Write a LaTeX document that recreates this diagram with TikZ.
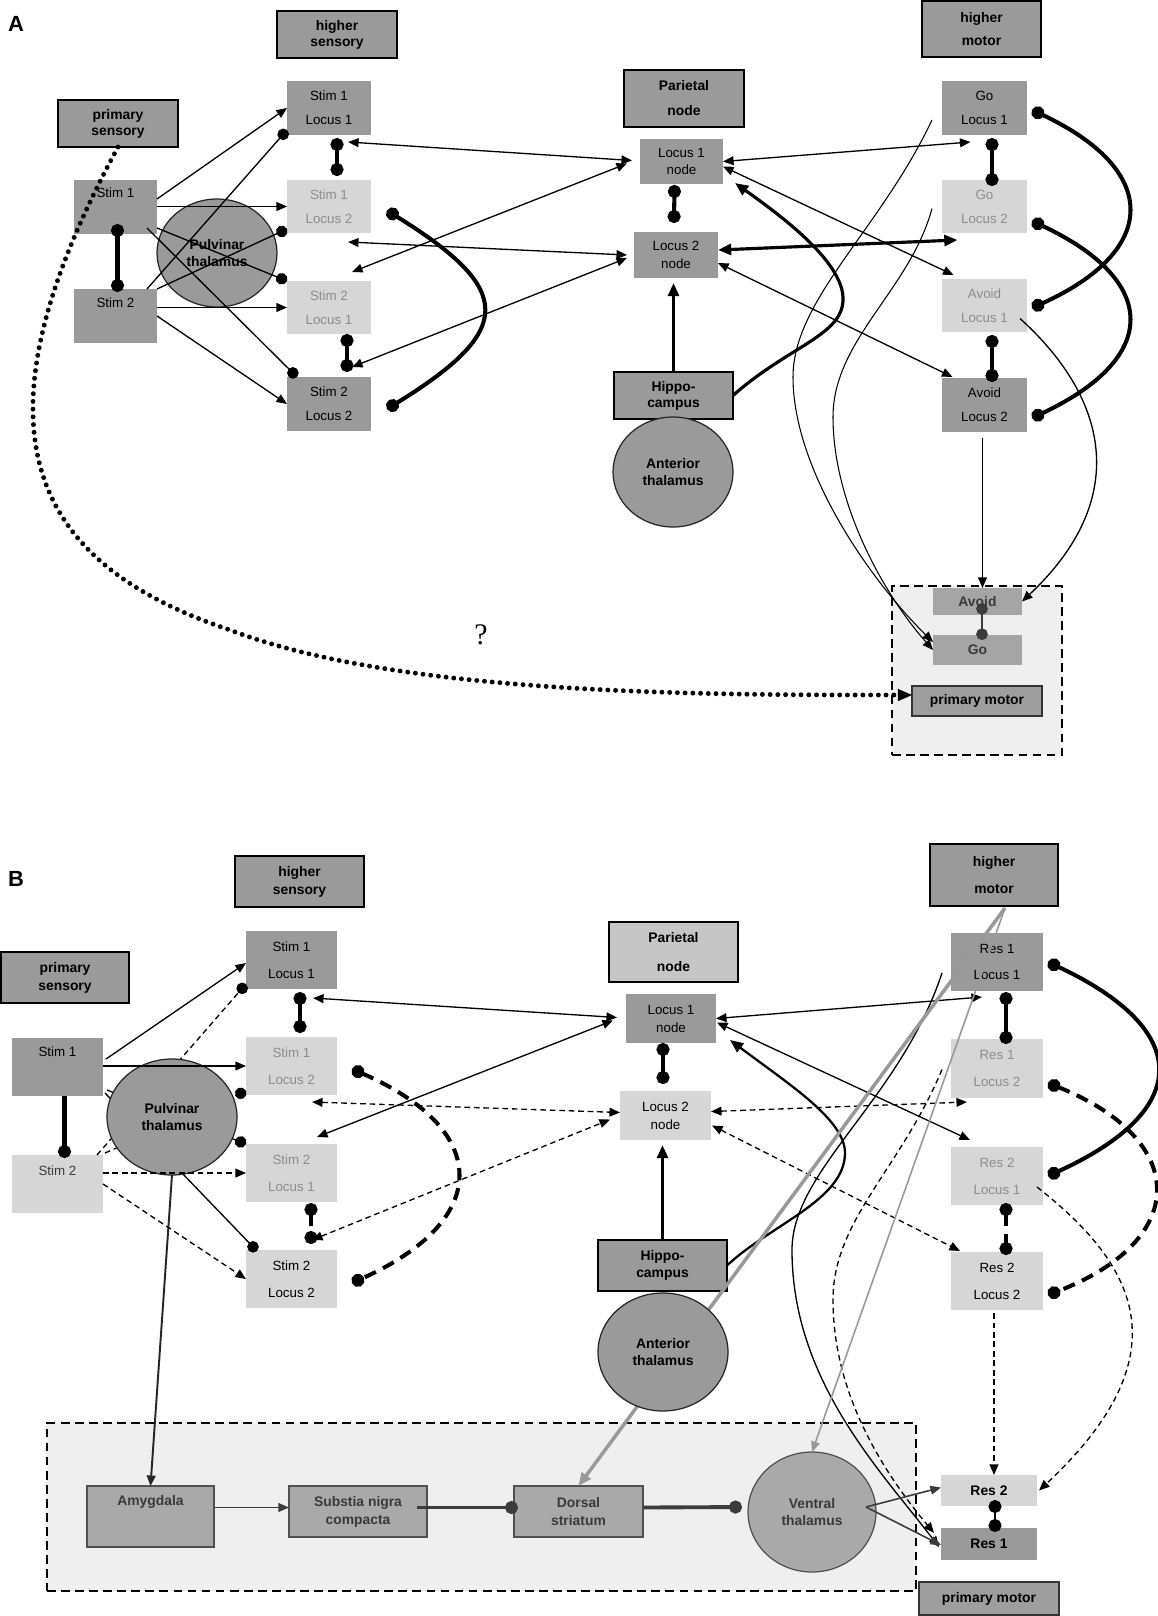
\documentclass[tikz,border=0pt]{standalone}
\usepackage{fontspec}
\setmainfont{Liberation Sans}
\newfontfamily\qfont{Liberation Serif}
\usetikzlibrary{arrows.meta,shapes.geometric,calc}
\definecolor{dk}{HTML}{9A9A9A}
\definecolor{lt}{HTML}{D6D6D6}
\definecolor{lttxt}{HTML}{8C8C8C}
\definecolor{reg}{HTML}{EFEFEF}
\definecolor{bbf}{HTML}{A9A9A9}
\definecolor{bbl}{HTML}{505050}
\definecolor{bbt}{HTML}{3A3A3A}
\definecolor{parf}{HTML}{C6C6C6}
\definecolor{gln}{HTML}{999999}
\definecolor{dg}{HTML}{3C3C3C}
\definecolor{motf}{HTML}{A5A5A5}
\definecolor{pmf}{HTML}{9E9E9E}
\tikzset{
  tipA/.tip={Triangle[length=6pt,width=5pt]},
  tipB/.tip={Triangle[length=7.5pt,width=6.2pt]},
  tipD/.tip={Circle[length=6.6pt]},
  tipE/.tip={Circle[length=7.4pt]},
  tipQ/.tip={Triangle[length=8pt,width=7pt,line width=0pt]},
}
\newcommand\mybox[7]{\node[#1,minimum width={(#5-#3)*0.02cm},minimum height={(#6-#4)*0.02cm}] (#2) at ({(#3+#5)/2},{(#4+#6)/2}) {#7};}
\begin{document}
\begin{tikzpicture}[x=0.02cm,y=-0.02cm,
  every node/.style={inner sep=0pt,outer sep=0pt},
  arr/.style={-{tipA}}, darr/.style={{tipA}-{tipA}},
  arrB/.style={-{tipB}}, darrB/.style={{tipB}-{tipB}},
  dotE/.style={-{tipD}}, dotB/.style={{tipD}-{tipD}},
  dotEE/.style={-{tipE}}, dotBE/.style={{tipE}-{tipE}},
  rt/.style={font=\fontsize{7.6}{#1}\selectfont,align=center},
  bt/.style={font=\bfseries\fontsize{7.9}{#1}\selectfont,align=center},
  dkbox/.style={fill=dk,text=black},
  ltbox/.style={fill=lt,text=lttxt},
  ltboxk/.style={fill=lt,text=black},
  lab/.style={fill=dk,draw=black,line width=0.7pt,text=black},
  labl/.style={fill=parf,draw=black,line width=0.7pt,text=black},
  circA/.style={ellipse,fill=dk,draw=black!85,line width=0.7pt,text=black},
  bxb/.style={fill=bbf,draw=bbl,line width=0.7pt,text=bbt},
  mot/.style={fill=motf,text=bbt},
  pmbox/.style={fill=pmf,draw=black!80,line width=0.7pt,text=black},
  regbox/.style={fill=reg,draw=black,line width=0.8pt,dash pattern=on 5pt off 3pt},
  thin1/.style={line width=0.75pt},
  thin0/.style={line width=0.6pt},
  med/.style={line width=1.8pt},
  med2/.style={line width=1.3pt},
  thick1/.style={line width=2.3pt},
  dashd/.style={dash pattern=on 3.2pt off 2.2pt},
  dashT/.style={dash pattern=on 7pt off 4.5pt},
  dgthin/.style={draw=dg,line width=0.9pt},
  dgthick/.style={draw=dg,line width=2.2pt},
]
\useasboundingbox (0,0) rectangle (1158,1616);
\fill[white] (0,0) rectangle (1158,1616);

%%%%%%%%%%%%%%%%%%%% PANEL A %%%%%%%%%%%%%%%%%%%%
\mybox{regbox}{regA}{892}{586}{1062}{755}{}
\node[font=\bfseries\fontsize{12.5}{12.5}\selectfont] (labA) at (16,24) {A};
\mybox{lab,bt=9.1pt}{hsA}{277}{11}{397}{58}{higher\\sensory}
\mybox{lab,bt=9.1pt}{psA}{58}{100}{178}{147}{primary\\sensory}
\mybox{dkbox}{s1A}{74}{180}{157}{234}{}
\node[rt=9pt] (s1At) at ($(s1A.north)+(0,13)$) {Stim 1};
\mybox{dkbox}{s2A}{74}{289}{157}{343}{}
\node[rt=9pt] (s2At) at ($(s2A.north)+(0,14)$) {Stim 2};
\mybox{dkbox,rt=13.6pt}{s1l1A}{287}{81}{371}{135}{Stim 1\\Locus 1}
\mybox{ltbox,rt=13.6pt}{s1l2A}{287}{180}{371}{233}{Stim 1\\Locus 2}
\mybox{ltbox,rt=13.6pt}{s2l1A}{287}{281}{371}{334}{Stim 2\\Locus 1}
\mybox{dkbox,rt=13.6pt}{s2l2A}{287}{377}{371}{431}{Stim 2\\Locus 2}
\node[circA,bt=9.6pt,minimum width={120*0.02cm},minimum height={108*0.02cm}] (pulvA) at (217,253) {Pulvinar\\thalamus};
\mybox{lab,bt=14.2pt}{parA}{624}{70}{744}{127}{Parietal\\node}
\mybox{dkbox,rt=10.2pt}{l1A}{640}{139}{723}{184}{Locus 1\\node}
\mybox{dkbox,rt=10.2pt}{l2A}{634}{232}{718}{278}{Locus 2\\node}
\mybox{lab,bt=9.1pt}{hipA}{614}{372}{733}{419}{Hippo-\\campus}
\node[circA,bt=9.6pt,minimum width={120*0.02cm},minimum height={110*0.02cm}] (antA) at (673,472) {Anterior\\thalamus};
\mybox{lab,bt=13.6pt}{hmA}{922}{1}{1041}{57}{higher\\motor}
\mybox{dkbox,rt=13.6pt}{g1A}{942}{81}{1027}{135}{Go\\Locus 1}
\mybox{ltbox,rt=13.6pt}{g2A}{942}{180}{1027}{233}{Go\\Locus 2}
\mybox{ltbox,rt=13.6pt}{a1A}{942}{279}{1027}{332}{Avoid\\Locus 1}
\mybox{dkbox,rt=13.6pt}{a2A}{942}{378}{1027}{432}{Avoid\\Locus 2}
\mybox{mot,bt=9pt}{avA}{933}{588}{1022}{615}{Avoid}
\mybox{mot,bt=9pt}{goA}{933}{635}{1022}{665}{Go}
\mybox{pmbox,bt=9pt}{pmA}{912}{686}{1042}{716}{primary motor}

% sensory connections A
\draw[thin1,arr] ([shift={(0,-8)}]s1A.east) -- (s1l1A.west);
\draw[thin1,arr] (s1A.east |- s1l2A.west) -- (s1l2A.west);
\draw[thin1,dotE] ([shift={(0,-6)}]s1A.south east) -- (s2l1A.north west);
\draw[thin1,dotE] ([shift={(-10,-6)}]s1A.south east) -- ([shift={(10,0)}]s2l2A.north west);
\draw[thin1,dotE] ([shift={(-10,0)}]s2A.north east) -- ([shift={(0,-5)}]s1l1A.south west);
\draw[thin1,dotE] (s2A.north east) -- ([shift={(0,-4)}]s1l2A.south west);
\draw[thin1,arr] (s2A.east |- s2l1A.west) -- (s2l1A.west);
\draw[thin1,arr] (s2A.east) -- (s2l2A.west);
\draw[thick1,dotBE] ([shift={(2,-10)}]s1A.south) -- ([shift={(2,3)}]s2A.north);
\draw[thick1,dotBE] ([shift={(8,3)}]s1l1A.south) -- ([shift={(8,-4)}]s1l2A.north);
\draw[thick1,dotBE] ([shift={(18,0)}]s2l1A.south) -- ([shift={(18,-5)}]s2l2A.north);
\draw[thick1,dotBE] ([shift={(16,4)}]s1l2A.east) .. controls (515,290) and (515,330) .. ([shift={(16,5)}]s2l2A.east);

% sensory <-> parietal A
\draw[thin1,darr] ([shift={(-23,7)}]s1l1A.south east) -- ([shift={(-8,-1)}]l1A.west);
\draw[thin1,darr] ([shift={(-13,2)}]l1A.west) -- ([shift={(23,-9)}]s2l1A.north);
\draw[thin1,darr] ([shift={(19,9)}]s1l2A.south) -- ([shift={(-7,0)}]l2A.west);
\draw[thin1,darr] ([shift={(23,-10)}]s2l2A.north) -- ([shift={(-7,3)}]l2A.west);
\draw[thick1,dotBE] ([shift={(-7,1)}]l1A.south) -- ([shift={(-2,-9)}]l2A.north);
\draw[med,arrB] (hipA.north) -- ($(hipA.north |- l2A.south)+(0,5)$);
\draw[med,arrB] (hipA.east) .. controls (790,345) and (845,335) .. (843,297) .. controls (841,260) and (780,215) .. ([shift={(12,-1)}]l1A.south east);

% parietal <-> motor A
\draw[thin1,darr] (l1A.east) -- ([shift={(-14,7)}]g1A.south);
\draw[thin1,darr] ([shift={(0,5)}]l1A.east) -- ([shift={(-31,-4)}]a1A.north);
\draw[med,darrB] ([shift={(0,-5)}]l2A.east) -- ([shift={(-27,7)}]g2A.south);
\draw[thin1,darr] ([shift={(0,8)}]l2A.east) -- ([shift={(-32,-1)}]a2A.north);
\draw[thick1,dotBE] ([shift={(7.5,3)}]g1A.south) -- ([shift={(7.5,6)}]g2A.north);
\draw[thick1,dotBE] ([shift={(7.5,3)}]a1A.south) -- ([shift={(7.5,4)}]a2A.north);
\draw[thick1,dotBE] ([shift={(5,2)}]g1A.east) .. controls (1160,170) and (1160,250) .. ([shift={(5,2.5)}]a1A.east);
\draw[thick1,dotBE] ([shift={(5,14.5)}]g2A.east) .. controls (1160,281) and (1160,358) .. ([shift={(5,13)}]a2A.east);

% to primary motor region A
\draw[thin1,arr] ([shift={(-2,6)}]a2A.south) -- ($(a2A.south |- avA.north)+(-2,0)$);
\draw[thin1,arr] ([shift={(-7,13)}]a1A.east) .. controls (1110,400) and (1130,500) .. (avA.east);
\draw[thin0,arr] ([shift={(-10,12)}]g1A.west) .. controls (880,230) and (793,300) .. (793,377) .. controls (793,470) and (870,580) .. ([shift={(0,-8)}]goA.west);
\draw[thin0,arr] ([shift={(-10,2)}]g2A.west) .. controls (910,290) and (833,340) .. (833,417) .. controls (833,500) and (880,590) .. (goA.west);
\draw[draw=dg,line width=1.6pt,{tipD}-{tipD}] ([shift={(4.5,-12)}]avA.south) -- ([shift={(4.5,5)}]goA.north);

% dotted primary sensory -> primary motor
\draw[line width=2.8pt,dash pattern=on 0pt off 4.4pt,line cap=round,-{tipQ}] (psA.south) .. controls (-30,420) and (20,560) .. (230,630) .. controls (400,695) and (700,695) .. ([shift={(0,-6)}]pmA.west);
\node[font=\qfont\fontsize{17}{17}\selectfont] (qm) at (481,635) {?};

%%%%%%%%%%%%%%%%%%%% PANEL B %%%%%%%%%%%%%%%%%%%%
\mybox{regbox}{regB}{47}{1423}{916}{1591}{}
\node[font=\bfseries\fontsize{12.5}{12.5}\selectfont] (labB) at (16,879) {B};
\mybox{lab,bt=10.2pt}{hsB}{235}{856}{364}{907}{higher\\sensory}
\mybox{lab,bt=10.2pt}{psB}{1}{952}{129}{1003}{primary\\sensory}
\mybox{dkbox}{s1B}{12}{1038}{103}{1096}{}
\node[rt=9pt] (s1Bt) at ($(s1B.north)+(0,14)$) {Stim 1};
\mybox{ltboxk}{s2B}{12}{1155}{103}{1213}{}
\node[rt=9pt,text=bbt] (s2Bt) at ($(s2B.north)+(0,16)$) {Stim 2};
\mybox{dkbox,rt=15.3pt}{s1l1B}{246}{931}{337}{989}{Stim 1\\Locus 1}
\mybox{ltbox,rt=15.3pt}{s1l2B}{246}{1037}{337}{1095}{Stim 1\\Locus 2}
\mybox{ltbox,rt=15.3pt}{s2l1B}{246}{1144}{337}{1202}{Stim 2\\Locus 1}
\mybox{ltboxk,rt=15.3pt}{s2l2B}{246}{1250}{337}{1308}{Stim 2\\Locus 2}
\mybox{labl,bt=16.4pt}{parB}{609}{922}{738}{982}{Parietal\\node}
\mybox{dkbox,rt=10.2pt}{l1B}{626}{994}{716}{1043}{Locus 1\\node}
\mybox{ltboxk,rt=10.2pt}{l2B}{620}{1091}{711}{1140}{Locus 2\\node}
\mybox{lab,bt=9.4pt}{hipB}{598}{1240}{727}{1291}{Hippo-\\campus}
\mybox{lab,bt=15.3pt}{hmB}{930}{844}{1058}{906}{higher\\motor}
\mybox{dkbox,rt=15.3pt}{r1l1B}{951}{933}{1043}{991}{Res 1\\Locus 1}
\mybox{ltbox,rt=15.3pt}{r1l2B}{951}{1039}{1043}{1098}{Res 1\\Locus 2}
\mybox{ltbox,rt=15.3pt}{r2l1B}{951}{1147}{1043}{1205}{Res 2\\Locus 1}
\mybox{ltboxk,rt=15.3pt}{r2l2B}{951}{1252}{1043}{1310}{Res 2\\Locus 2}
\mybox{bxb}{amyB}{87}{1486}{214}{1547}{}
\node[bt=9pt,text=bbt] (amyBt) at ($(amyB.north)+(0,16)$) {Amygdala};
\mybox{bxb,bt=10.2pt}{snB}{289}{1486}{427}{1537}{Substia nigra\\compacta}
\mybox{bxb,bt=10.2pt}{dsB}{514}{1486}{643}{1537}{Dorsal\\striatum}
\node[ellipse,fill=bbf,draw=bbl,line width=0.7pt,text=bbt,bt=9.6pt,minimum width={128*0.02cm},minimum height={120*0.02cm}] (vtB) at (812,1512) {Ventral\\thalamus};
\mybox{ltboxk,bt=9pt}{r2B}{941}{1475}{1037}{1506}{Res 2}
\mybox{dkbox,bt=9pt}{r1B}{941}{1528}{1037}{1560}{Res 1}
\mybox{pmbox,bt=9pt}{pmB}{919}{1582}{1059}{1615}{primary motor}

% lines hidden under pulvinar B
\draw[thin1,dotE] ([shift={(4,-6)}]s1B.south east) -- (s2l1B.north west);
\draw[thin1,dotE] ([shift={(2,-3)}]s1B.south east) -- ([shift={(11,1)}]s2l2B.north west);
\draw[thin1,dashd,dotE] ([shift={(-6,0)}]s2B.north east) -- ([shift={(0,-5)}]s1l1B.south west);
\draw[thin1,dashd,dotE] ([shift={(2,-2)}]s2B.north east) -- ([shift={(0,-4)}]s1l2B.south west);
\node[circA,bt=9.6pt,minimum width={130*0.02cm},minimum height={116*0.02cm}] (pulvB) at (172,1117) {Pulvinar\\thalamus};
\draw[draw=black!85,line width=1.1pt,arr] (pulvB.south) -- (amyB.north);

% sensory B
\draw[thin1,arr] ([shift={(3,-8)}]s1B.east) -- ([shift={(0,3)}]s1l1B.west);
\draw[thin1,arr] (s1B.east |- s1l2B.west) -- (s1l2B.west);
\draw[thin1,dashd,arr] (s2B.east |- s2l1B.west) -- (s2l1B.west);
\draw[thin1,dashd,arr] (s2B.east) -- (s2l2B.west);
\draw[thick1,-{tipE}] ([shift={(7,0)}]s1B.south) -- ([shift={(7,3)}]s2B.north);
\draw[thick1,dotBE] ([shift={(8.5,3)}]s1l1B.south) -- ([shift={(8.5,-4)}]s1l2B.north);
\draw[thick1,dashT,dotBE] ([shift={(19.5,1)}]s2l1B.south) -- ([shift={(19.5,-6)}]s2l2B.north);
\draw[thick1,dashT,dotBE] ([shift={(15,3)}]s1l2B.east) .. controls (492,1130) and (492,1220) .. ([shift={(15,4)}]s2l2B.east);

% sensory <-> parietal B
\draw[thin1,darr] ([shift={(21.5,9)}]s1l1B.south) -- ([shift={(-9,-1)}]l1B.west);
\draw[thin1,darr] ([shift={(-13,2)}]l1B.west) -- ([shift={(25.5,-7)}]s2l1B.north);
\draw[thin1,dashd,darr] ([shift={(20.5,7)}]s1l2B.south) -- ([shift={(0,-3)}]l2B.west);
\draw[thin1,dashd,darr] ([shift={(20.5,-10)}]s2l2B.north) -- ([shift={(-10,4)}]l2B.west);
\draw[thick1,dotBE] ([shift={(-8,0)}]l1B.south) -- ([shift={(-2.5,-7)}]l2B.north);
\draw[med,arrB] (hipB.north) -- ($(hipB.north |- l2B.south)+(0,5)$);
\draw[med2,arrB] (hipB.east) .. controls (770,1225) and (845,1200) .. (845,1153) .. controls (845,1120) and (790,1085) .. ([shift={(14,-3)}]l1B.south east);

% parietal <-> motor B
\draw[thin1,darr] (l1B.east) -- ([shift={(-15,6)}]r1l1B.south);
\draw[thin1,darr] ([shift={(1,4)}]l1B.east) -- ([shift={(-27,-7)}]r2l1B.north);
\draw[thin1,dashd,darr] ([shift={(0,-4)}]l2B.east) -- ([shift={(-30,4)}]r1l2B.south);
\draw[thin1,dashd,darr] ([shift={(1,10)}]l2B.east) -- ([shift={(-37,-1)}]r2l2B.north);
\draw[thick1,dotBE] ([shift={(9,1)}]r1l1B.south) -- ([shift={(9,5)}]r1l2B.north);
\draw[thick1,dashT,dotBE] ([shift={(9,-2)}]r2l1B.south) -- ([shift={(9,3)}]r2l2B.north);
\draw[thick1,dotBE] ([shift={(5,0)}]r1l1B.east) .. controls (1193,1030) and (1193,1110) .. ([shift={(5,0)}]r2l1B.east);
\draw[thick1,dashT,dotBE] ([shift={(5,14.5)}]r1l2B.east) .. controls (1190,1140) and (1190,1240) .. ([shift={(5,14)}]r2l2B.east);

% to primary motor B
\draw[thin1,dashd,arr] ([shift={(-3,3)}]r2l2B.south) -- ($(r2l2B.south |- r2B.north)+(-3,0)$);
\draw[thin1,dashd,arr] ([shift={(-6,11)}]r2l1B.east) .. controls (1130,1260) and (1190,1350) .. ([shift={(2,0)}]r2B.east);
\draw[thin1,arr] ([shift={(-9,11)}]r1l1B.west) .. controls (900,1100) and (792,1170) .. (792,1250) .. controls (792,1380) and (880,1470) .. ([shift={(-2,3)}]r1B.west);
\draw[thin1,dashd,arr] ([shift={(-9,1)}]r1l2B.west) .. controls (900,1170) and (833,1220) .. (833,1300) .. controls (833,1400) and (890,1480) .. ([shift={(-7,-11)}]r1B.west);

% basal ganglia loop
\draw[dgthin,arr] ([shift={(0,-9)}]amyB.east) -- ([shift={(0,-4)}]snB.west);
\draw[dgthick,-{tipE}] ([shift={(-10,-4)}]snB.east) -- ([shift={(4,-4)}]dsB.west);
\draw[dgthick,-{tipE}] ([shift={(0,-4)}]dsB.east) -- ([shift={(-6,-5)}]vtB.west);
\draw[dgthin,arr] ([shift={(-10,-5)}]vtB.east) -- ([shift={(0,-3)}]r2B.west);
\draw[dgthin,arr] ([shift={(-10,-5)}]vtB.east) -- ([shift={(0,1)}]r1B.west);
\draw[med2,dotBE] ([shift={(6,-6)}]r2B.south) -- ([shift={(6,4)}]r1B.north);

% grey projections from higher motor
\draw[draw=gln,line width=2pt,-{tipB}] ([shift={(11,2)}]hmB.south) -- (dsB.north);
\draw[draw=gln,line width=0.9pt,arr] ([shift={(11,2)}]hmB.south) -- (vtB.north);
\node[circA,bt=9.6pt,minimum width={130*0.02cm},minimum height={118*0.02cm}] (antB) at (663,1352) {Anterior\\thalamus};
\end{tikzpicture}
\end{document}
